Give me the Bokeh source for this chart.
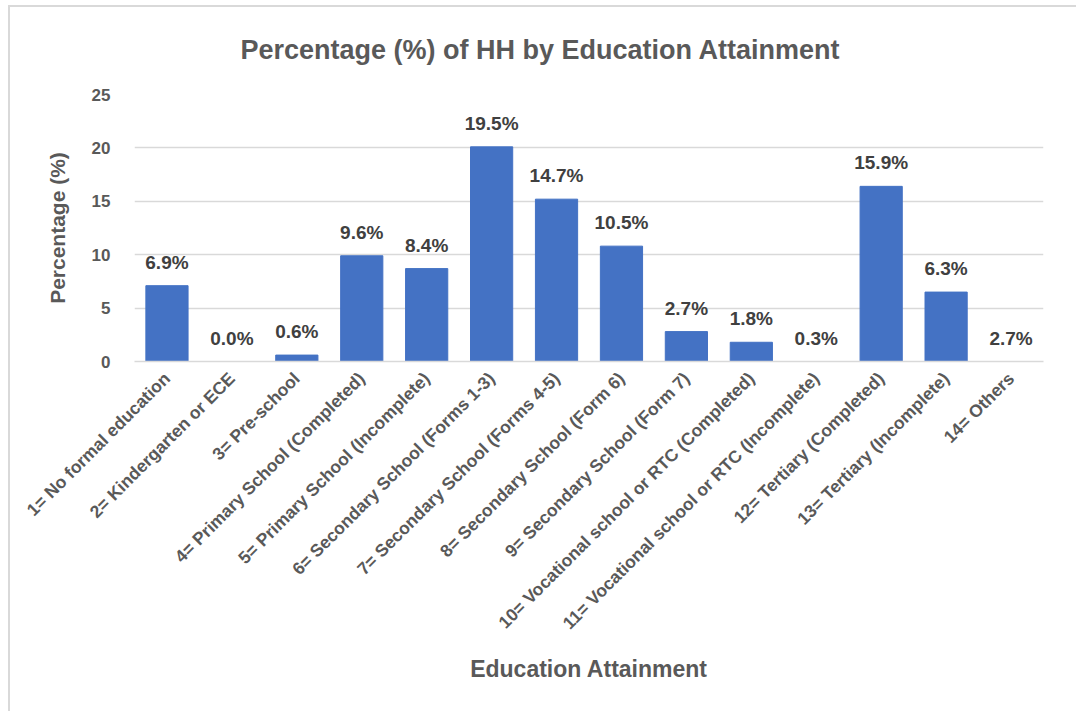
import math
from bokeh.plotting import figure
from bokeh.models import ColumnDataSource, FactorRange, Range1d, FixedTicker, LabelSet
from bokeh.core.properties import value
from bokeh.embed import file_html
from bokeh.resources import INLINE

categories = [
    "1= No formal education",
    "2= Kindergarten or ECE",
    "3= Pre-school",
    "4= Primary School (Completed)",
    "5= Primary School (Incomplete)",
    "6= Secondary School (Forms 1-3)",
    "7= Secondary School (Forms 4-5)",
    "8= Secondary School (Form 6)",
    "9= Secondary School (Form 7)",
    "10= Vocational school or RTC (Completed)",
    "11= Vocational school or RTC (Incomplete)",
    "12= Tertiary (Completed)",
    "13= Tertiary (Incomplete)",
    "14= Others",
]
bar_values = [7.1, 0.0, 0.6, 9.9, 8.7, 20.1, 15.2, 10.8, 2.8, 1.8, 0.0, 16.4, 6.5, 0.0]
label_texts = ["6.9%", "0.0%", "0.6%", "9.6%", "8.4%", "19.5%", "14.7%", "10.5%",
               "2.7%", "1.8%", "0.3%", "15.9%", "6.3%", "2.7%"]
y_ticks = [0, 5, 10, 15, 20, 25]

FONT = "Liberation Sans"
GREY = "#595959"

src = ColumnDataSource(dict(cat=categories, val=bar_values, lab=label_texts))

p = figure(
    x_range=FactorRange(*categories),
    y_range=Range1d(0, 25),
    width=1068, height=706,
    output_backend="svg", toolbar_location=None, tools="",
    min_border_left=124, min_border_right=35, min_border_top=0, min_border_bottom=352,
)
p.margin = (5, 0, 0, 8)
p.styles = {"border-top": "2px solid #d9d9d9", "border-left": "2px solid #d9d9d9"}

p.title.text = "Percentage (%) of HH by Education Attainment"
p.title.align = "left"
p.title.offset = 106
p.title.vertical_align = "top"
p.title.text_font = FONT
p.title.text_font_size = "27px"
p.title.text_font_style = "bold"
p.title.text_color = GREY
p.title.standoff = 55

p.vbar(x="cat", top="val", width=0.65, source=src, color="#4472C4")

labels = LabelSet(x="cat", y="val", text="lab", source=src, text_align="center",
                  text_baseline="alphabetic", y_offset=17,
                  text_font=value(FONT), text_font_size=value("19px"),
                  text_font_style="bold", text_color="#404040")
p.add_layout(labels)

p.outline_line_color = None
p.xgrid.grid_line_color = None
p.ygrid.grid_line_color = "#d9d9d9"
p.ygrid.grid_line_width = 1.5

p.yaxis.ticker = FixedTicker(ticks=y_ticks)
p.yaxis.axis_line_color = None
p.yaxis.major_tick_line_color = None
p.yaxis.minor_tick_line_color = None
p.yaxis.major_label_standoff = 18
p.yaxis.major_label_text_font = FONT
p.yaxis.major_label_text_font_size = "17px"
p.yaxis.major_label_text_font_style = "bold"
p.yaxis.major_label_text_color = GREY
p.yaxis.axis_label = "Percentage (%)"
p.yaxis.axis_label_text_font = FONT
p.yaxis.axis_label_text_font_size = "21px"
p.yaxis.axis_label_text_font_style = "bold"
p.yaxis.axis_label_text_color = GREY
p.yaxis.axis_label_standoff = 20

p.xaxis.axis_line_color = "#d9d9d9"
p.xaxis.axis_line_width = 1.5
p.xaxis.major_tick_line_color = None
p.xaxis.minor_tick_line_color = None
p.xaxis.major_label_orientation = math.pi / 4
p.xaxis.major_label_standoff = 8
p.xaxis.major_label_text_font = FONT
p.xaxis.major_label_text_font_size = "17.5px"
p.xaxis.major_label_text_font_style = "bold"
p.xaxis.major_label_text_color = GREY
p.xaxis.axis_label = "Education Attainment"
p.xaxis.axis_label_text_font = FONT
p.xaxis.axis_label_text_font_size = "23px"
p.xaxis.axis_label_text_font_style = "bold"
p.xaxis.axis_label_text_color = GREY
p.xaxis.axis_label_standoff = 13

open("out.html", "w").write(file_html(p, INLINE))
